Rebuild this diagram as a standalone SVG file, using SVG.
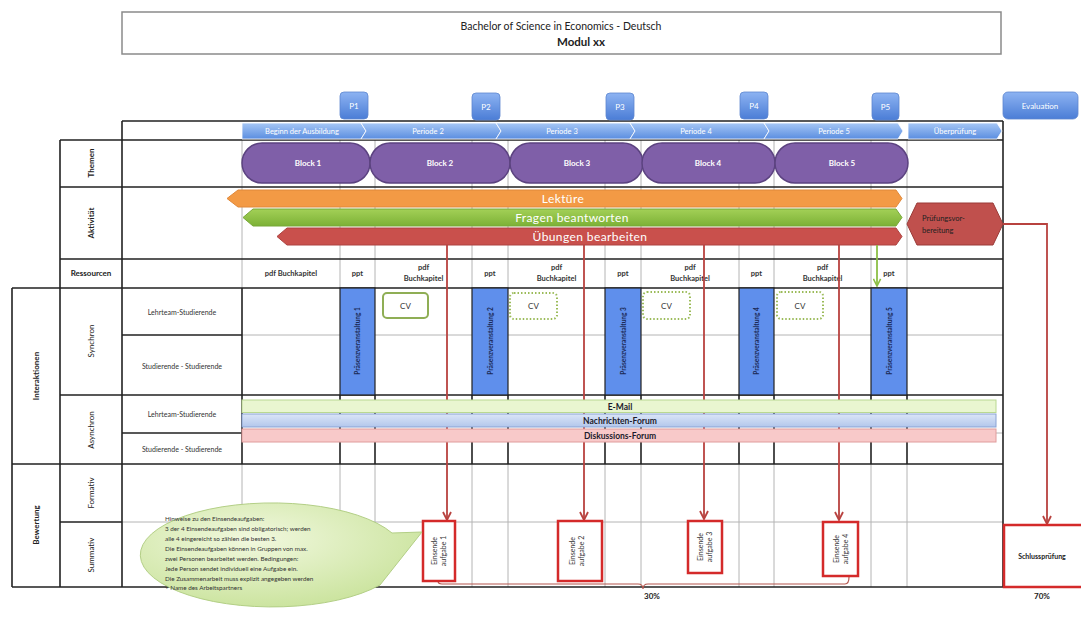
<svg xmlns="http://www.w3.org/2000/svg" width="1081" height="622" viewBox="0 0 1081 622">
<defs>
  <linearGradient id="gChev" x1="0" y1="0" x2="0" y2="1">
    <stop offset="0" stop-color="#a6c7f5"/><stop offset="1" stop-color="#5a8de0"/>
  </linearGradient>
  <linearGradient id="gP" x1="0" y1="0" x2="0" y2="1">
    <stop offset="0" stop-color="#8db3f2"/><stop offset="1" stop-color="#4b7dd6"/>
  </linearGradient>
  <linearGradient id="gGreen" x1="0" y1="0" x2="0" y2="1">
    <stop offset="0" stop-color="#a3d057"/><stop offset="1" stop-color="#7cb136"/>
  </linearGradient>
  <linearGradient id="gNach" x1="0" y1="0" x2="0" y2="1">
    <stop offset="0" stop-color="#dbe5f7"/><stop offset="1" stop-color="#b3c7ec"/>
  </linearGradient>
  <radialGradient id="gBubble" cx="0.4" cy="0.35" r="0.75">
    <stop offset="0" stop-color="#f1f8de"/><stop offset="1" stop-color="#c6e196"/>
  </radialGradient>
  <marker id="arrR" viewBox="0 0 10 10" refX="9" refY="5" markerWidth="10" markerHeight="10" markerUnits="userSpaceOnUse" orient="auto">
    <path d="M1,1 L9,5 L1,9" fill="none" stroke="#b8423f" stroke-width="1.8"/>
  </marker>
  <marker id="arrG" viewBox="0 0 10 10" refX="9" refY="5" markerWidth="9" markerHeight="9" markerUnits="userSpaceOnUse" orient="auto">
    <path d="M1,1 L9,5 L1,9" fill="none" stroke="#8cbf45" stroke-width="1.8"/>
  </marker>
</defs>
<style>
  text{font-family:Lato,"Liberation Sans",sans-serif;fill:#222}
  .dk{stroke:#222;stroke-width:1.6;fill:none}
  .gr{stroke:#b4b4b4;stroke-width:1;fill:none}
  .lbl{font-size:8px;text-anchor:middle;dominant-baseline:central}
  .b{font-weight:bold}
  .sm{font-size:7px;text-anchor:middle;dominant-baseline:central;fill:#333}
  .res{font-size:7.5px;font-weight:bold;text-anchor:middle;fill:#333}
  .chev{fill:url(#gChev);stroke:#ffffff;stroke-width:0.8}
  .chevt{font-size:7.5px;fill:#fff;text-anchor:middle;dominant-baseline:central}
  .pbox{fill:url(#gP);stroke:#5d86cf;stroke-width:0.8}
  .pt{font-size:8px;fill:#fff;text-anchor:middle;dominant-baseline:central}
  .blk{fill:#7f5fa8;stroke:#5c4380;stroke-width:1.5}
  .blkt{font-size:8px;font-weight:bold;fill:#fff;text-anchor:middle;dominant-baseline:central}
  .actt{font-size:12px;fill:#fff;text-anchor:middle;dominant-baseline:central;letter-spacing:0.4px}
  .bar{fill:#5f8fec;stroke:#222;stroke-width:1.2}
  .bart{font-size:6.5px;font-weight:bold;fill:#1b2a55;text-anchor:middle;dominant-baseline:central}
  .cv{fill:#fff;stroke:#8fae55;stroke-width:2}
  .cvd{fill:#fff;stroke:#9bbb59;stroke-width:2;stroke-dasharray:1.5 2}
  .cvt{font-size:8px;text-anchor:middle;dominant-baseline:central;fill:#333}
  .ein{fill:#fff;stroke:#d42a2a;stroke-width:2.5}
  .eint{font-size:7px;text-anchor:middle;fill:#333}
  .con{fill:none;stroke:#b8423f;stroke-width:1.8}
  .async{font-size:8.5px;font-weight:bold;text-anchor:middle;dominant-baseline:central;fill:#1c1c2c}
  .note{font-size:6.3px;fill:#333}
</style>
<rect x="0" y="0" width="1081" height="622" fill="#fff"/>

<!-- Title -->
<g id="title">
  <rect x="122" y="12" width="879" height="42" fill="#fff" stroke="#8a8a8a" stroke-width="1.5"/>
  <text x="561" y="30" font-size="10.5" text-anchor="middle">Bachelor of Science in Economics - Deutsch</text>
  <text x="581" y="46" font-size="11.5" font-weight="bold" text-anchor="middle">Modul xx</text>
</g>

<!-- Grid -->
<g id="grid">
  <path class="gr" d="M242,140V288 M340,140V288 M375,140V288 M472,140V288 M508,140V288 M605,140V288 M641,140V288 M739,140V288 M774,140V288 M871,140V288 M907,140V288
    M242,464V587 M340,464V587 M375,464V587 M472,464V587 M508,464V587 M605,464V587 M641,464V587 M739,464V587 M774,464V587 M871,464V587 M907,464V587
    M242,335H1003 M242,433H1003 M122,522H1003"/>
  <path class="dk" d="M122,121H1003 M60,140H1003 M60,187H1003 M60,259H1003 M12,288H1003 M122,335H242 M60,395H1003 M122,433H242 M12,464H1003 M60,522H122 M12,587H1003
    M12,288V587 M60,140V587 M122,121V587 M1003,121V587 M242,288V464
    M340,395V464 M375,395V464 M472,395V464 M508,395V464 M605,395V464 M641,395V464 M739,395V464 M774,395V464 M871,395V464 M907,395V464"/>
</g>

<!-- Row labels -->
<g id="labels">
  <text class="lbl b" transform="translate(91,163) rotate(-90)">Themen</text>
  <text class="lbl b" transform="translate(91,223) rotate(-90)">Aktivität</text>
  <text class="lbl b" x="91" y="273">Ressourcen</text>
  <text class="lbl b" transform="translate(36,376) rotate(-90)">Interaktionen</text>
  <text class="lbl" transform="translate(91,341) rotate(-90)">Synchron</text>
  <text class="lbl" transform="translate(91,430) rotate(-90)">Asynchron</text>
  <text class="lbl b" transform="translate(36,525) rotate(-90)">Bewertung</text>
  <text class="lbl" transform="translate(91,493) rotate(-90)">Formativ</text>
  <text class="lbl" transform="translate(91,555) rotate(-90)">Summativ</text>
  <text class="sm" x="182" y="312">Lehrteam-Studierende</text>
  <text class="sm" x="182" y="366">Studierende - Studierende</text>
  <text class="sm" x="182" y="414">Lehrteam-Studierende</text>
  <text class="sm" x="182" y="449">Studierende - Studierende</text>
</g>

<!-- Timeline chevrons -->
<g id="timeline">
  <polygon class="chev" points="242,123 361,123 366,131 361,139 242,139"/>
  <polygon class="chev" points="361,123 496,123 501,131 496,139 361,139 366,131"/>
  <polygon class="chev" points="496,123 630,123 635,131 630,139 496,139 501,131"/>
  <polygon class="chev" points="630,123 764,123 769,131 764,139 630,139 635,131"/>
  <polygon class="chev" points="764,123 898,123 903,131 898,139 764,139 769,131"/>
  <polygon class="chev" points="908,123 997,123 1002,131 997,139 908,139"/>
  <text class="chevt" x="302" y="131">Beginn der Ausbildung</text>
  <text class="chevt" x="428" y="131">Periode 2</text>
  <text class="chevt" x="562" y="131">Periode 3</text>
  <text class="chevt" x="696" y="131">Periode 4</text>
  <text class="chevt" x="834" y="131">Periode 5</text>
  <text class="chevt" x="955" y="131">Überprüfung</text>
</g>

<g id="P1"><rect class="pbox" x="340" y="92" width="28" height="27" rx="4"/><text class="pt" x="354" y="105.5">P1</text></g>
<g id="P2"><rect class="pbox" x="472" y="93" width="28" height="27" rx="4"/><text class="pt" x="486" y="106.5">P2</text></g>
<g id="P3"><rect class="pbox" x="606" y="93" width="28" height="27" rx="4"/><text class="pt" x="620" y="106.5">P3</text></g>
<g id="P4"><rect class="pbox" x="740" y="92" width="28" height="27" rx="4"/><text class="pt" x="754" y="105.5">P4</text></g>
<g id="P5"><rect class="pbox" x="872" y="93" width="27" height="27" rx="4"/><text class="pt" x="885.5" y="106.5">P5</text></g>
<g id="evaluation"><rect class="pbox" x="1003" y="92" width="75" height="27" rx="5"/><text class="pt" x="1040" y="105.5">Evaluation</text></g>

<!-- Themen blocks -->
<g id="block1"><rect class="blk" x="242" y="143" width="128" height="40" rx="20"/><text class="blkt" x="308" y="163">Block 1</text></g>
<g id="block2"><rect class="blk" x="370" y="143" width="140" height="40" rx="20"/><text class="blkt" x="440" y="163">Block 2</text></g>
<g id="block3"><rect class="blk" x="510" y="143" width="133" height="40" rx="20"/><text class="blkt" x="577" y="163">Block 3</text></g>
<g id="block4"><rect class="blk" x="642" y="143" width="133" height="40" rx="20"/><text class="blkt" x="708" y="163">Block 4</text></g>
<g id="block5"><rect class="blk" x="775" y="143" width="133" height="40" rx="20"/><text class="blkt" x="842" y="163">Block 5</text></g>

<!-- Activities -->
<g id="lektuere"><polygon points="238,190 896,190 902,198.5 896,207 238,207 227,198.5" fill="#f39a45" stroke="#e0883a" stroke-width="1"/><text class="actt" x="563" y="198.5">Lektüre</text></g>
<g id="fragen"><polygon points="253,209 896,209 902,217.5 896,226 253,226 243,217.5" fill="url(#gGreen)" stroke="#78a838" stroke-width="1"/><text class="actt" x="572" y="217.5">Fragen beantworten</text></g>
<g id="uebungen"><polygon points="287,228 896,228 902,236.5 896,245 287,245 277,236.5" fill="#c9504c" stroke="#ad4340" stroke-width="1"/><text class="actt" x="590" y="236.5">Übungen bearbeiten</text></g>
<g id="pruefungsvorbereitung"><polygon points="917,203 993,203 1003,224 993,245 917,245 907,224" fill="#c0504d" stroke="#9a3b38" stroke-width="1"/>
  <text x="922" y="221" font-size="7.5" fill="#fff">Prüfungsvor-</text><text x="922" y="233" font-size="7.5" fill="#fff">bereitung</text></g>

<!-- Resources -->
<g id="resources">
  <text class="res" x="291" y="276">pdf Buchkapitel</text>
  <text class="res" x="357.5" y="276">ppt</text>
  <text class="res" x="423.5" y="270">pdf</text><text class="res" x="423.5" y="281">Buchkapitel</text>
  <text class="res" x="490" y="276">ppt</text>
  <text class="res" x="556.5" y="270">pdf</text><text class="res" x="556.5" y="281">Buchkapitel</text>
  <text class="res" x="623" y="276">ppt</text>
  <text class="res" x="690" y="270">pdf</text><text class="res" x="690" y="281">Buchkapitel</text>
  <text class="res" x="756.5" y="276">ppt</text>
  <text class="res" x="822.5" y="270">pdf</text><text class="res" x="822.5" y="281">Buchkapitel</text>
  <text class="res" x="889" y="276">ppt</text>
</g>

<!-- Präsenzveranstaltungen -->
<g id="praesenz1"><rect class="bar" x="340" y="288" width="35" height="107"/><text class="bart" transform="translate(357.5,341) rotate(-90)">Präsenzveranstaltung 1</text></g>
<g id="praesenz2"><rect class="bar" x="472" y="288" width="36" height="107"/><text class="bart" transform="translate(490,341) rotate(-90)">Präsenzveranstaltung 2</text></g>
<g id="praesenz3"><rect class="bar" x="605" y="288" width="36" height="107"/><text class="bart" transform="translate(623,341) rotate(-90)">Präsenzveranstaltung 3</text></g>
<g id="praesenz4"><rect class="bar" x="739" y="288" width="35" height="107"/><text class="bart" transform="translate(756.5,341) rotate(-90)">Präsenzveranstaltung 4</text></g>
<g id="praesenz5"><rect class="bar" x="871" y="288" width="36" height="107"/><text class="bart" transform="translate(889,341) rotate(-90)">Präsenzveranstaltung 5</text></g>

<!-- CV -->
<g id="cv1"><rect class="cv" x="383" y="293" width="45" height="25" rx="4"/><text class="cvt" x="405.5" y="305.5">CV</text></g>
<g id="cv2"><rect class="cvd" x="510" y="293" width="47" height="26" rx="4"/><text class="cvt" x="533.5" y="306">CV</text></g>
<g id="cv3"><rect class="cvd" x="643" y="292" width="47" height="27" rx="4"/><text class="cvt" x="666.5" y="305.5">CV</text></g>
<g id="cv4"><rect class="cvd" x="777" y="292" width="46" height="27" rx="4"/><text class="cvt" x="800" y="305.5">CV</text></g>

<!-- Connectors -->
<g id="connectors">
  <path class="con" d="M447,245V520" marker-end="url(#arrR)"/>
  <path class="con" d="M584,245V520" marker-end="url(#arrR)"/>
  <path class="con" d="M704,245V519" marker-end="url(#arrR)"/>
  <path class="con" d="M839,245V520" marker-end="url(#arrR)"/>
  <path d="M877,245V286" fill="none" stroke="#8cbf45" stroke-width="1.8" marker-end="url(#arrG)"/>
  <path class="con" d="M1003,224H1047V524" marker-end="url(#arrR)"/>
  <path d="M438,581 Q438,584 442,584 L638,584 Q643,584 643,589 Q643,584 648,584 L845,584 Q849,584 849,577" fill="none" stroke="#b5574f" stroke-width="1.2"/>
</g>

<!-- Asynchron channels -->
<g id="email"><rect x="242" y="400" width="754" height="12.5" fill="#e9f6d0" stroke="#b9d891" stroke-width="1"/><text class="async" x="620" y="406.5">E-Mail</text></g>
<g id="nachrichten"><rect x="242" y="414" width="754" height="13" fill="url(#gNach)" stroke="#8aa3d4" stroke-width="1"/><text class="async" x="620" y="420.5">Nachrichten-Forum</text></g>
<g id="diskussion"><rect x="242" y="429" width="754" height="13" fill="#f8c9c9" stroke="#e09c9c" stroke-width="1"/><text class="async" x="620" y="435.5">Diskussions-Forum</text></g>

<!-- Einsendeaufgaben -->
<g id="einsende1"><rect class="ein" x="423" y="521" width="32" height="60"/>
  <text class="eint" transform="translate(439,551) rotate(-90)"><tspan x="0" y="-2">Einsende</tspan><tspan x="0" y="7">aufgabe 1</tspan></text></g>
<g id="einsende2"><rect class="ein" x="558" y="521" width="44" height="60"/>
  <text class="eint" transform="translate(577,551) rotate(-90)"><tspan x="0" y="-2">Einsende</tspan><tspan x="0" y="7">aufgabe 2</tspan></text></g>
<g id="einsende3"><rect class="ein" x="688" y="521" width="34" height="52"/>
  <text class="eint" transform="translate(705,547) rotate(-90)"><tspan x="0" y="-2">Einsende</tspan><tspan x="0" y="7">aufgabe 3</tspan></text></g>
<g id="einsende4"><rect class="ein" x="823" y="522" width="35" height="54"/>
  <text class="eint" transform="translate(840.5,549) rotate(-90)"><tspan x="0" y="-2">Einsende</tspan><tspan x="0" y="7">aufgabe 4</tspan></text></g>

<g id="schlusspruefung"><rect class="ein" x="1004" y="525" width="80" height="62"/>
  <text x="1042" y="559" font-size="7" font-weight="bold" text-anchor="middle">Schlussprüfung</text></g>

<text x="652" y="599" font-size="8" font-weight="bold" text-anchor="middle">30%</text>
<text x="1042" y="599" font-size="8" font-weight="bold" text-anchor="middle">70%</text>

<!-- Callout -->
<g id="hinweise">
  <path d="M392,533 L422,532 L380,585 A132,52 0 1 1 392,533 Z" fill="url(#gBubble)" stroke="#b3cf86" stroke-width="1"/>
  <text class="note" x="165" y="521">Hinweise zu den Einsendeaufgaben:</text>
  <text class="note" x="165" y="531">3 der 4 Einsendeaufgaben sind obligatorisch;  werden</text>
  <text class="note" x="165" y="541">alle 4 eingereicht so zählen die besten 3.</text>
  <text class="note" x="165" y="551">Die Einsendeaufgaben können in Gruppen  von max.</text>
  <text class="note" x="165" y="561">zwei Personen bearbeitet  werden.  Bedingungen:</text>
  <text class="note" x="165" y="571">Jede Person sendet individuell  eine Aufgabe ein.</text>
  <text class="note" x="165" y="580.5">Die Zusammenarbeit muss explizit  angegeben werden</text>
  <text class="note" x="165" y="590">+ Name des Arbeitspartners</text>
</g>
</svg>
